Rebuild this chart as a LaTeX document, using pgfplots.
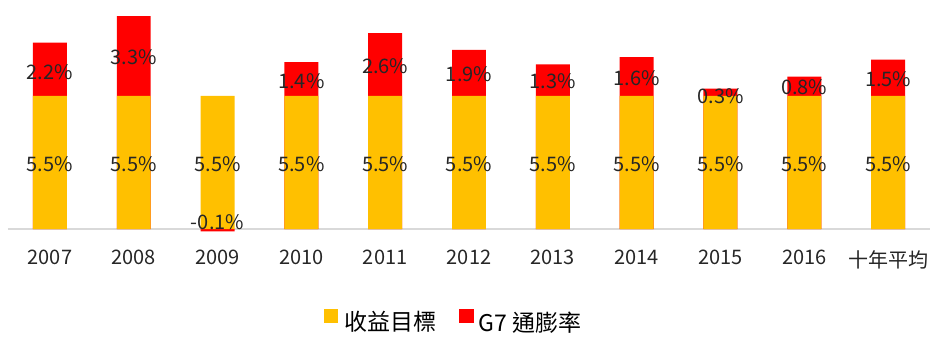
\documentclass[border=0pt]{standalone}
\usepackage{pgfplots}
\pgfplotsset{compat=1.18}
\usepackage{pgfplotstable}
\usepackage{fontspec}
\setmainfont{Noto Sans CJK TC}
\definecolor{cyellow}{HTML}{FFC000}
\definecolor{cred}{HTML}{FF0000}
\definecolor{caxis}{HTML}{D9D9D9}
\pgfplotstableread{
x target infl redbase
0 5.5 2.2 5.5
1 5.5 3.3 5.5
2 5.5 -0.1 0
3 5.5 1.4 5.5
4 5.5 2.6 5.5
5 5.5 1.9 5.5
6 5.5 1.3 5.5
7 5.5 1.6 5.5
8 5.5 0.3 5.5
9 5.5 0.8 5.5
10 5.5 1.5 5.5
}\data
\tikzset{lbl/.style={font=\fontsize{20}{23}\selectfont, text=black!85, inner sep=0pt}}
\begin{document}
\begin{tikzpicture}
\useasboundingbox (0,0) rectangle (943pt,353pt);
\begin{axis}[
  at={(8pt,114.3pt)}, anchor=south west,
  scale only axis, width=922pt, height=229.9pt,
  xmin=-0.5, xmax=10.5, ymin=-0.4, ymax=9.1,
  axis line style={draw=none},
  ytick=\empty,
  xtick=data,
  xticklabels={2007,2008,2009,2010,2011,2012,2013,2014,2015,2016,十年平均},
  major tick length=0pt,
  xticklabel style={font=\fontsize{20}{23}\selectfont, text=black!85, anchor=north, yshift=-8pt},
  ybar, bar width=0.405, bar shift=0pt,
  clip=false,
  legend style={at={(rel axis cs:0.483,0)}, anchor=center, yshift=-83pt, draw=none,
    font=\fontsize{23}{26}\selectfont, legend columns=2,
    /tikz/every even column/.append style={column sep=20pt}},
  legend cell align=left,
]
\draw[caxis, line width=1.5pt] (axis cs:-0.5,0) -- (axis cs:10.5,0);
\addplot[fill=cred, draw=none, forget plot] table[x=x, y expr=\thisrow{redbase}+\thisrow{infl}] {\data};
\addplot[fill=cyellow, draw=none, forget plot] table[x=x, y=target] {\data};
\addlegendimage{legend image code/.code={\fill[cyellow] (0pt,0pt) rectangle (13pt,13pt); \path (19pt,0pt);}}
\addlegendentry{收益目標}
\addlegendimage{legend image code/.code={\fill[cred] (0pt,0pt) rectangle (14pt,13pt); \path (17pt,0pt);}}
\addlegendentry{G7 通膨率}
\node[lbl] at (axis cs:0,2.7) {5.5\%};
\node[lbl] at (axis cs:1,2.7) {5.5\%};
\node[lbl] at (axis cs:2,2.7) {5.5\%};
\node[lbl] at (axis cs:3,2.7) {5.5\%};
\node[lbl] at (axis cs:4,2.7) {5.5\%};
\node[lbl] at (axis cs:5,2.7) {5.5\%};
\node[lbl] at (axis cs:6,2.7) {5.5\%};
\node[lbl] at (axis cs:7,2.7) {5.5\%};
\node[lbl] at (axis cs:8,2.7) {5.5\%};
\node[lbl] at (axis cs:9,2.7) {5.5\%};
\node[lbl] at (axis cs:10,2.7) {5.5\%};
\node[lbl] at (axis cs:0,6.5) {2.2\%};
\node[lbl] at (axis cs:1,7.1) {3.3\%};
\node[lbl] at (axis cs:2,0.3) {-0.1\%};
\node[lbl] at (axis cs:3,6.1) {1.4\%};
\node[lbl] at (axis cs:4,6.75) {2.6\%};
\node[lbl] at (axis cs:5,6.4) {1.9\%};
\node[lbl] at (axis cs:6,6.1) {1.3\%};
\node[lbl] at (axis cs:7,6.25) {1.6\%};
\node[lbl] at (axis cs:8,5.5) {0.3\%};
\node[lbl] at (axis cs:9,5.85) {0.8\%};
\node[lbl] at (axis cs:10,6.2) {1.5\%};
\end{axis}
\end{tikzpicture}
\end{document}
